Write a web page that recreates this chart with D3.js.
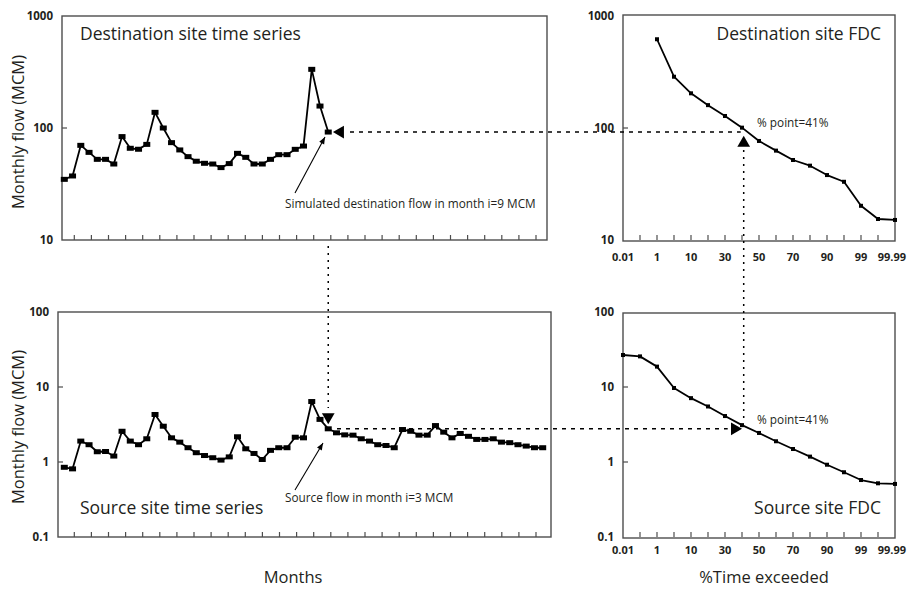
<!DOCTYPE html>
<html>
<head>
<meta charset="utf-8">
<script src="https://cdn.jsdelivr.net/npm/d3@7"></script>
<style>
  body { margin: 0; background: #fff; }
  svg { display: block; }
  text { font-family: "Open Sans", sans-serif; fill: #231f20; }
</style>
</head>
<body>
<div id="chart"></div>
<script>
/* monthly flows (MCM), one value per month */
var destSeries = [34.8, 37.3, 70, 60.6, 52.5, 52.5, 47.7, 83.8, 65.9, 64.6, 71.4, 138, 100,
  74, 63.7, 55.5, 50.5, 48.4, 47.7, 44.3, 48.1, 59.4, 54.7, 47.7, 47.7, 52.5, 57.8, 57.8,
  64.5, 69, 334, 157, 92];
var sourceSeries = [0.85, 0.81, 1.9, 1.7, 1.37, 1.38, 1.2, 2.57, 1.9, 1.7, 2.04, 4.3, 3.0,
  2.1, 1.84, 1.55, 1.33, 1.22, 1.14, 1.06, 1.17, 2.17, 1.5, 1.3, 1.08, 1.43, 1.55, 1.55,
  2.14, 2.1, 6.4, 3.7, 2.77,
  2.45, 2.3, 2.28, 2.04, 1.9, 1.7, 1.66, 1.55, 2.71, 2.57, 2.28, 2.28, 3.06, 2.5, 2.1, 2.4,
  2.2, 2.0, 2.0, 2.04, 1.84, 1.81, 1.7, 1.63, 1.55, 1.55];

/* flow duration curves, one slot per axis position */
var fdcLabels = ['0.01', '', '1', '', '10', '', '30', '', '50', '', '70', '', '90', '', '99', '', '99.99'];
var destFdc = [null, null, 620, 287, 204, 160, 128, 100.7, 76.6, 62.8, 51.8, 46.1, 38, 33.1, 20.2, 15.4, 15.1];
var sourceFdc = [26.7, 25.6, 18.7, 9.7, 7.1, 5.5, 4.1, 3.1, 2.44, 1.89, 1.49, 1.18, 0.92, 0.73, 0.575, 0.52, 0.51];

var monthI = 32;      /* month i */
var pointPos = 7.1;   /* 41 % on the FDC axis */

var topTicks = [10, 100, 1000];
var botTicks = [0.1, 1, 10, 100];

var W = 908, H = 589;
var svg = d3.select('#chart').append('svg').attr('width', W).attr('height', H);

var FRAME = '#4d4d4d';

/* ── scales ── */
var xMonth = d3.scaleLinear().domain([0, 58]).range([64.3, 542.7]);
var xTick = d3.scaleLinear().domain([0, 27]).range([74.3, 536]);
var xFdc = d3.scaleLinear().domain([0, 16]).range([623, 895]);
var yTop = d3.scaleLog().domain([10, 1000]).range([240, 16]);
var yBot = d3.scaleLog().domain([0.1, 100]).range([537, 312]);

function frame(x0, x1, y) {
  svg.append('rect')
    .attr('x', x0).attr('y', y.range()[1])
    .attr('width', x1 - x0).attr('height', y.range()[0] - y.range()[1])
    .attr('fill', 'none').attr('stroke', FRAME).attr('stroke-width', 1.4);
}

function yAxis(x0, y, ticks) {
  var g = svg.append('g');
  ticks.forEach(function (t, i) {
    if (i > 0 && i < ticks.length - 1) {
      g.append('line').attr('x1', x0).attr('x2', x0 + 5)
        .attr('y1', y(t)).attr('y2', y(t))
        .attr('stroke', FRAME).attr('stroke-width', 1.2);
    }
    g.append('text').attr('x', x0 - 9).attr('y', y(t) + 4)
      .attr('text-anchor', 'end').attr('font-size', 11.5).attr('font-weight', 'bold')
      .text(d3.format('~g')(t));
  });
}

function xTicks(xs, yb) {
  svg.append('g').selectAll('line').data(xs).join('line')
    .attr('x1', function (d) { return d; }).attr('x2', function (d) { return d; })
    .attr('y1', yb).attr('y2', yb - 5)
    .attr('stroke', FRAME).attr('stroke-width', 1.2);
}

function tsLine(data, y) {
  var line = d3.line()
    .x(function (d, i) { return xMonth(i); })
    .y(function (d) { return y(d); });
  svg.append('path').datum(data).attr('d', line)
    .attr('fill', 'none').attr('stroke', '#000').attr('stroke-width', 1.8)
    .attr('stroke-linejoin', 'round');
  svg.append('g').selectAll('rect').data(data).join('rect')
    .attr('x', function (d, i) { return xMonth(i) - 3.5; })
    .attr('y', function (d) { return y(d) - 2.5; })
    .attr('width', 7).attr('height', 5).attr('fill', '#000');
}

function fdcLine(data, y) {
  var pts = data.map(function (d, i) { return [i, d]; })
    .filter(function (p) { return p[1] != null; });
  var line = d3.line()
    .x(function (p) { return xFdc(p[0]); })
    .y(function (p) { return y(p[1]); });
  svg.append('path').datum(pts).attr('d', line)
    .attr('fill', 'none').attr('stroke', '#000').attr('stroke-width', 1.8)
    .attr('stroke-linejoin', 'round');
  svg.append('g').selectAll('rect').data(pts).join('rect')
    .attr('x', function (p) { return xFdc(p[0]) - 2; })
    .attr('y', function (p) { return y(p[1]) - 2; })
    .attr('width', 4).attr('height', 4).attr('fill', '#000');
}

function fdcXAxis(y, ly) {
  var idx = d3.range(fdcLabels.length);
  var last = idx.length - 1;
  xTicks(idx.slice(1, -1).map(function (i) { return xFdc(i); }), y.range()[0]);
  svg.append('g').selectAll('text').data(idx.filter(function (i) { return fdcLabels[i]; })).join('text')
    .attr('x', function (i) { return i === last ? xFdc(i) + 11 : xFdc(i); }).attr('y', ly)
    .attr('text-anchor', function (i) { return i === last ? 'end' : 'middle'; })
    .attr('font-size', 11).attr('font-weight', 'bold')
    .text(function (i) { return fdcLabels[i]; });
}

function title(x, y, txt, anchor) {
  svg.append('text').attr('x', x).attr('y', y).attr('font-size', 17.5)
    .attr('text-anchor', anchor || 'start').text(txt);
}

function tri(x, y, rot) {
  svg.append('path').attr('d', d3.symbol(d3.symbolTriangle, 70)())
    .attr('transform', 'translate(' + x + ',' + y + ') rotate(' + rot + ')')
    .attr('fill', '#000');
}

function dashed(x1, y1, x2, y2, dash) {
  svg.append('line').attr('x1', x1).attr('y1', y1).attr('x2', x2).attr('y2', y2)
    .attr('stroke', '#000').attr('stroke-width', 1.5).attr('stroke-dasharray', dash);
}

function pointer(x1, y1, x2, y2) {
  var a = Math.atan2(y2 - y1, x2 - x1) * 180 / Math.PI;
  svg.append('line').attr('x1', x1).attr('y1', y1).attr('x2', x2).attr('y2', y2)
    .attr('stroke', '#000').attr('stroke-width', 1.1);
  svg.append('path').attr('d', 'M0,0 L-7,-2.8 L-7,2.8 Z')
    .attr('transform', 'translate(' + x2 + ',' + y2 + ') rotate(' + a + ')')
    .attr('fill', '#000');
}

/* ── frames & axes ── */
frame(62, 547, yTop);
frame(58, 551, yBot);
frame(623, 895, yTop.copy().range([241, 15]));
frame(623, 895, yBot.copy().range([538, 313]));

yAxis(62, yTop, topTicks);
yAxis(58, yBot, botTicks);
yAxis(623, yTop, topTicks);
yAxis(623, yBot, botTicks);

xTicks(d3.range(28).map(xTick), 240);
xTicks(d3.range(28).map(xTick), 537);
fdcXAxis(yTop, 261);
fdcXAxis(yBot, 554);

/* ── data ── */
tsLine(destSeries, yTop);
tsLine(sourceSeries, yBot);
fdcLine(destFdc, yTop);
fdcLine(sourceFdc, yBot);

/* ── connecting guides ── */
var xi = xMonth(monthI), xp = xFdc(pointPos);
var yd = yTop(destSeries[monthI]), ys = yBot(sourceSeries[monthI]);

dashed(350, yd, xp - 3, yd, '4,5');
dashed(xi, 246, xi, 408, '2,5');
dashed(337, ys, xp - 16, ys, '4,5');
dashed(xp, 150, xp, 422, '2,5');

tri(xi + 12, yd, -90);
tri(xi, 417, 180);
tri(xp, 143, 0);
tri(xp - 9, ys, 90);

pointer(295, 193, 325, 137);
pointer(295, 490, 323, 443);

/* ── text ── */
title(80, 40, 'Destination site time series');
title(881, 40, 'Destination site FDC', 'end');
title(80, 514, 'Source site time series');
title(881, 514, 'Source site FDC', 'end');

svg.append('text').attr('x', 285).attr('y', 208).attr('font-size', 11.8)
  .text('Simulated destination flow in month i=9 MCM');
svg.append('text').attr('x', 285).attr('y', 502).attr('font-size', 11.8)
  .text('Source flow in month i=3 MCM');
svg.append('text').attr('x', 757).attr('y', 127).attr('font-size', 11.8).text('% point=41%');
svg.append('text').attr('x', 757).attr('y', 424).attr('font-size', 11.8).text('% point=41%');

[132, 427].forEach(function (cy) {
  svg.append('text').attr('transform', 'translate(24,' + cy + ') rotate(-90)')
    .attr('text-anchor', 'middle').attr('font-size', 16.5).text('Monthly flow (MCM)');
});
svg.append('text').attr('x', 293).attr('y', 583).attr('text-anchor', 'middle')
  .attr('font-size', 16.5).text('Months');
svg.append('text').attr('x', 764).attr('y', 583).attr('text-anchor', 'middle')
  .attr('font-size', 16.5).text('%Time exceeded');
</script>
</body>
</html>
